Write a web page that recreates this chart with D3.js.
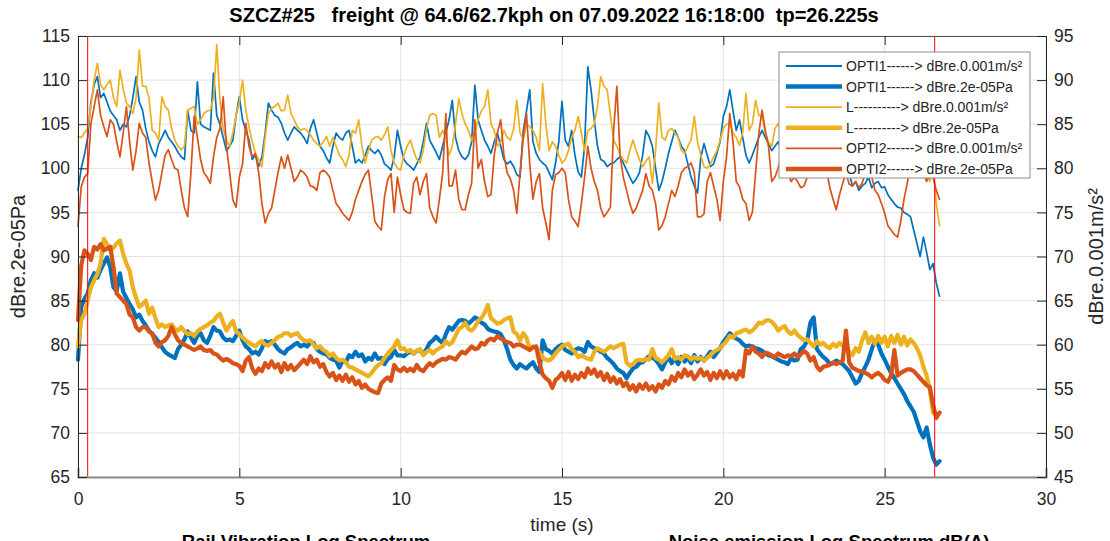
<!DOCTYPE html>
<html>
<head>
<meta charset="utf-8">
<script src="https://cdnjs.cloudflare.com/ajax/libs/d3/7.8.5/d3.min.js"></script>
<style>
  body { margin: 0; background: #fff; }
  svg { display: block; font-family: "Liberation Sans", Arial, Helvetica, sans-serif; }
</style>
</head>
<body>
<div id="chart"></div>
<script>
// sampling step of all series (s)
const dt = 0.1;

// OPTI1 / L / OPTI2 vibration, dBre.0.001m/s² (right axis)
const opti1Vib = [
  77.5, 80, 81.5, 83.5, 87.5, 89.5, 90.4, 88, 88.5, 87.5,
  86.5, 86, 85.5, 84.3, 85, 84.7, 86, 88, 90.4, 87.5,
  86.6, 84.5, 83, 82, 81.3, 82.8, 83.5, 84.3, 83.5, 83,
  82.5, 81.8, 81.3, 81, 86.6, 84.3, 84, 89.8, 85, 84.7,
  84.5, 84.3, 90.8, 86, 85, 83.5, 82, 82.5, 83.2, 86,
  88.1, 85.5, 84.3, 83.2, 81, 81.5, 80.2, 81.3, 84, 87.4,
  86.6, 86, 85.8, 85.1, 84, 83.2, 84, 84.7, 84.3, 84,
  83.5, 82.8, 84.5, 85.5, 84, 82.5, 82, 81.2, 80.6, 82.5,
  84, 83.5, 83.2, 84, 84.3, 82.5, 80.6, 81, 80.6, 81.5,
  82.5, 82, 81.7, 82.1, 81.5, 80.5, 80.2, 79.8, 81.3, 84.3,
  82.5, 81, 80.5, 80.2, 79.8, 80.5, 81.3, 83, 85.1, 83.2,
  82.5, 81.8, 81, 82.5, 84, 85.5, 87.7, 83.5, 82, 81.3,
  81, 81.5, 83, 89.4, 85.5, 84.3, 83.2, 82.5, 81.7, 83,
  84, 82.5, 81, 80.5, 80.8, 80.2, 79.3, 79, 84.3, 86.5,
  88.9, 83, 81.7, 81, 80.6, 80.3, 79.5, 78.7, 80.6, 83,
  87.6, 83.2, 82.5, 84.3, 81.5, 79.6, 79, 82.5, 91.5, 88.9,
  85.5, 82.5, 81, 80.8, 80.2, 80.5, 80.6, 81, 81.3, 80.6,
  79.8, 79, 78.3, 78.8, 79.5, 81.5, 84.3, 83.6, 82.5, 80,
  77.5, 78.5, 80, 81.7, 83, 84.3, 83.5, 82.5, 82, 80.5,
  79, 78, 77.2, 81.2, 82.8, 81.5, 80.2, 80.5, 81.7, 83,
  85.9, 87, 88.9, 86.5, 84.3, 85.5, 83.5, 81.5, 80.6, 81.5,
  82.5, 83.5, 84.3, 83.5, 82.8, 82, 82.5, 83, 82, 81.5,
  82, 82.5, 83, 82, 81.5, 82.5, 83.5, 82, 81, 80.5,
  81, 82, 83, 82.5, 81.5, 80.5, 80, 81, 80, 79.5,
  78, 78.5, 77.5, 78, 78.3, 79, 77.8, 78.3, 78.5, 77.8,
  77.9, 77, 76.5, 76, 75.6, 75.5, 75, 74.8, 74.5, 73,
  71.5, 70, 72.2, 70.5, 68.5, 69.2, 67, 65.5
];
const lVib = [
  83.6, 83.5, 84, 84.5, 87, 90, 91.9, 89.5, 88.9, 89.5,
  90, 88, 87, 91.1, 89, 87.4, 87, 86.2, 88, 93.4,
  89.3, 89.3, 88, 84.3, 84, 83.2, 88.1, 87, 86.6, 84.5,
  83.2, 82.5, 82.1, 82.5, 86.6, 86.8, 87, 85, 85.5, 86.2,
  86.5, 86.6, 88, 94, 87.7, 84.5, 83.2, 82.5, 84, 86,
  87.5, 90, 86.6, 84.7, 83, 81.7, 81, 80.2, 83.5, 86.2,
  86.8, 87, 87.4, 86.5, 86.6, 88.3, 86.2, 85.5, 84.7, 84.3,
  84.5, 84.3, 83.8, 83.2, 82.8, 82.5, 83, 83.6, 82.5, 83.5,
  82.5, 81.5, 81, 80.2, 81.5, 84.3, 84, 85.5, 82.5, 80.6,
  82, 83.2, 83.5, 83.6, 83.2, 83.8, 84.7, 82, 80.6, 80,
  79.8, 81.5, 82.5, 83.2, 82, 81, 80.6, 82, 84.5, 86,
  86.2, 86, 83.5, 84.3, 83.5, 81.5, 82.5, 85, 87.9, 86.2,
  85, 84.3, 83.2, 84, 85.5, 86.5, 87, 88.9, 85, 84.3,
  82.5, 83, 84.3, 83.5, 83.2, 84.5, 87.7, 84, 83.2, 85,
  84.7, 84.3, 83.5, 82, 89.6, 85, 82, 83, 82.5, 81.5,
  80.6, 81, 82, 83.5, 84.3, 85.9, 84, 82, 84.3, 84.5,
  85, 87, 90.4, 89.3, 88.9, 86, 83.2, 82.5, 81.5, 81,
  80.6, 82, 83.2, 82, 81, 80.2, 80.8, 81.3, 78.3, 82,
  87.4, 83.5, 83.2, 84.3, 84.5, 84, 83.5, 82, 81.7, 82.5,
  83.2, 85.9, 83, 81.5, 80.2, 80, 80.5, 81.3, 82, 83.2,
  84.5, 85, 85.1, 84, 83.5, 82.6, 84, 88.5, 84.3, 85,
  87.7, 86, 85.9, 84, 83, 82.5, 84.5, 85.1, 84, 83,
  82.5, 83.5, 84, 83, 82, 83, 84.5, 83.5, 82.5, 82,
  83, 84, 83, 82.5, 81.5, 82, 83, 82.5, 81.5, 81,
  81.5, 82, 81, 80.5, 81.5, 82, 81, 80.5, 81, 82,
  81.5, 80.5, 81, 80, 80.5, 81, 80.5, 80, 80.5, 81,
  80, 79, 80.5, 79.5, 78.5, 80, 76, 73.5
];
const opti2Vib = [
  73.4, 77.9, 79, 79.4, 85, 87, 88.9, 86, 84.7, 83.6,
  85.5, 85, 83, 81.3, 84, 87, 83, 79.8, 82, 85.1,
  84, 83.5, 80.6, 78.5, 76.4, 77.5, 79.5, 81.5, 82.1, 81,
  80, 79.8, 77.5, 75.5, 74.5, 79.5, 85.9, 83.5, 81, 79.5,
  79, 78.3, 81.3, 83.5, 84.5, 88.1, 82.5, 79.5, 76.4, 75.6,
  79, 80.5, 85.1, 82.5, 81.3, 81.7, 79.5, 76, 73.8, 74.9,
  75.5, 77.5, 79.5, 81.3, 80, 81.5, 80, 78.5, 79, 79.8,
  79.5, 79, 78, 77.9, 77.5, 79.5, 79.8, 79.5, 79, 77.5,
  76, 75.5, 74.9, 74.5, 74.1, 75, 76.5, 77.5, 78.5, 79.3,
  79.8, 77, 74, 73.4, 73, 76.8, 78.7, 79.4, 75, 79,
  77, 75.3, 75, 74.9, 78.3, 79, 77, 78.5, 79.4, 75.5,
  74.5, 73.8, 76.5, 79.4, 86.2, 78, 78, 79.8, 76.5, 75.3,
  75.3, 77, 78.3, 85.5, 80, 81, 78.5, 76.8, 77, 81.5,
  84, 85.5, 81.5, 79.5, 78.8, 77.5, 74.9, 79.5, 83.5, 86.2,
  80.5, 76.5, 78.5, 79.4, 75.5, 73.8, 71.9, 77.5, 79.3, 79.5,
  80, 79.5, 76.5, 74.5, 74, 73.4, 76, 79, 82.5, 80,
  78.5, 77.5, 75.5, 74.5, 75, 75.6, 84.3, 89.3, 81.5, 79,
  77.5, 76, 74.9, 75.5, 76.5, 77.5, 79.4, 78, 77.5, 76,
  73, 73.5, 74.5, 76, 77.5, 76.8, 78, 79.5, 80, 80.2,
  80.6, 79.5, 74.5, 74.5, 74.8, 78.5, 79.5, 78, 76.5, 74.1,
  78.5, 81.3, 86.2, 83, 78.5, 77.9, 76.5, 76, 74.1, 75,
  79.5, 84, 86.6, 84.3, 82.5, 78.5, 79, 80, 81.5, 80.5,
  79.5, 78.5, 79, 78.5, 77.8, 78, 79, 80.5, 81, 80,
  79.5, 80.5, 79.8, 77.8, 76.5, 75.3, 77, 78.3, 79.5, 78.2,
  78, 78.5, 77.8, 78.3, 79.5, 80.5, 79, 77.5, 77, 76,
  74.9, 73.5, 73, 72.5, 72.2, 74, 76.5, 78.3, 80.5, 82,
  81, 80, 79.5, 78.5, 79.5, 79, 77.5, 76.5
];

// OPTI1 / L / OPTI2 noise, dBre.2e-05Pa (left axis)
const opti1Noise = [
  78.3, 84.3, 85.2, 85.8, 87.3, 88.1, 87.6, 88.5, 89.2, 89.9,
  88.8, 86.5, 86.1, 88.1, 86, 85.3, 84.6, 84, 83.1, 83.4,
  82.7, 82.2, 81.6, 81.2, 80.8, 80.3, 79.7, 79.2, 78.9, 78.7,
  78.5, 79.5, 80, 80.6, 81.5, 80.8, 80.2, 81, 81.3, 80.5,
  80.2, 81, 82, 81.6, 81.5, 80.8, 80.5, 80.6, 80.4, 81,
  81.6, 80.5, 79.8, 79.5, 79, 79.2, 78.9, 79.6, 80.4, 80.2,
  80.4, 80, 79.5, 79.2, 79, 79.5, 79.7, 80, 80.2, 79.8,
  80, 79.8, 80.2, 80.2, 79.5, 79.2, 79, 78.9, 78.5, 78.3,
  78.2, 77.4, 78.2, 78, 78.8, 78.6, 79.2, 78.7, 78.9, 78.1,
  78.5, 78.3, 79, 78.4, 78.5, 77.8, 78.4, 78.6, 79.4, 78.8,
  78.8, 78.7, 79, 79.2, 79, 79.3, 79.4, 78.9, 79.5, 80.2,
  80.5, 80.9, 80.5, 80.2, 81.2, 82, 81.7, 82.2, 82.7, 82.8,
  82.7, 82.4, 82.7, 83.1, 82.9, 82.5, 82.3, 81.8, 81.6, 81.5,
  81.4, 81.2, 80.5, 79.5, 78.3, 77.7, 77.3, 77.8, 77.5, 77.3,
  77.7, 78, 77.3, 76.9, 80.5, 79.5, 79.3, 79, 79.5, 79.8,
  80, 79.4, 79.2, 79, 79.4, 79.6, 79.5, 79.2, 80.3, 79.8,
  79.6, 79.5, 79.2, 79, 78.5, 78.2, 77.8, 77.3, 77, 76.8,
  76.2, 76.8, 77.3, 77.5, 77.9, 78, 78.4, 78.7, 78.5, 78.3,
  77.8, 77.2, 78, 78.6, 77.9, 78.5, 77.8, 78.6, 78.1, 78.5,
  77.9, 78.8, 78.1, 78.6, 78.2, 78.7, 79.2, 78.6, 79.1, 79.6,
  80.3, 80.8, 81.3, 80.9, 80.7, 80.5, 80.1, 79.8, 79.9, 79.8,
  79.6, 79.5, 79.3, 79, 78.8, 78.7, 78.5, 78.3, 78.1, 78,
  77.8, 78.5, 78.2, 78.3, 79.5, 79.8, 80.5, 82.5, 83.1, 79.5,
  79, 78.6, 78.3, 77.8, 77.9, 78.2, 78, 77.8, 77.4, 77,
  76.3, 75.6, 75.9, 76.8, 77.5, 78.3, 79.5, 80.5, 80, 79,
  78.3, 77.5, 76.8, 76.2, 75.6, 75, 74.4, 73.6, 73, 72.4,
  71.3, 70.2, 69.5, 70.6, 68.7, 67.2, 66.4, 66.8
];
const lNoise = [
  79.8, 82.8, 83.5, 85, 86.5, 87.3, 88, 89.2, 92, 91.4,
  90.7, 91, 91.5, 91.8, 90.3, 89.2, 88.4, 86.5, 85.3, 84.3,
  84.6, 85, 83.5, 84.2, 83, 82, 82.3, 82, 82.2, 82.3,
  81.8, 81.6, 82, 81.5, 81.2, 81.3, 81, 81.5, 81.8, 82,
  82.2, 82.5, 82.7, 83.2, 83.5, 82.5, 81.6, 82.2, 82.7, 81.5,
  81.2, 80.8, 80.5, 80.2, 80, 79.8, 80.2, 80.4, 80, 79.9,
  80.2, 80.5, 80.9, 81, 81.3, 81.3, 81, 81.2, 81.3, 80.8,
  80.5, 80.4, 80.5, 80, 79.6, 79.8, 79.4, 79.2, 78.7, 79,
  78.5, 78.2, 78.3, 78, 77.5, 77.4, 77.2, 77, 76.8, 76.6,
  76.4, 76.8, 77.3, 77.7, 77.9, 78.5, 79, 79.4, 79.8, 80.5,
  79.5, 79.6, 79.2, 79.4, 79, 79.3, 79.5, 78.8, 79.2, 79.4,
  79, 79.4, 79.6, 79.8, 80.4, 80, 80.3, 81, 81.8, 82,
  82.5, 81.8, 81.6, 82, 82.7, 83, 83.6, 84.5, 83, 82.7,
  82.4, 82.5, 82.8, 83, 83.1, 81.5, 81.2, 80.5, 81.3, 80.8,
  79.4, 79.8, 79.6, 79.2, 78.5, 78.3, 78.2, 78.5, 79, 79.4,
  79.8, 80, 80.1, 79.5, 79.2, 78.6, 78.8, 78.6, 78.4, 78.3,
  79.2, 79.6, 79.4, 79.2, 79.5, 79.8, 79.6, 79.8, 80, 80.1,
  78, 77.6, 77.8, 78.2, 78.3, 78.2, 78.4, 78.3, 79.5, 78.5,
  78.3, 78, 78.4, 78.8, 79.5, 78.4, 78.6, 78.3, 78.8, 78.7,
  78.3, 78.6, 78.4, 78.5, 78.2, 78.5, 78.8, 79.2, 79.4, 79.6,
  80, 80.4, 81, 80.8, 81.3, 81.4, 81.6, 81.7, 81.4, 81.6,
  82, 82.5, 82.4, 82.7, 82.8, 82.6, 82.2, 81.6, 81.9, 82.1,
  81.5, 81.2, 81.6, 81.1, 80.8, 80.5, 80.6, 80.2, 79.8, 80.4,
  80, 80.2, 79.8, 79.6, 80.1, 79.8, 80.2, 79.9, 80, 79.2,
  78.8, 79.6, 79.2, 80.5, 81.4, 80.2, 80.9, 80.1, 81, 80.2,
  80.9, 79.8, 81, 80.2, 81.1, 80, 80.9, 79.9, 80.6, 80.2,
  79.6, 78.8, 77.5, 76.5, 74.9, 72.3, 72, 72.3
];
const opti2Noise = [
  82.8, 89, 90.7, 90.3, 89.6, 91.1, 90.8, 91.4, 90.7, 90.9,
  91.1, 88.8, 85.8, 85.4, 85, 84.6, 83.4, 83.1, 82, 81.6,
  82, 82, 81.5, 81.3, 80.2, 79.8, 80.3, 80.5, 81, 82,
  81.2, 80.5, 80.2, 80, 79.8, 79.6, 79.4, 79.6, 79.8, 79.4,
  79.3, 79.4, 79, 78.9, 78.5, 78.2, 78.4, 78.2, 77.9, 77.8,
  77.6, 77, 78.2, 78.6, 77.3, 76.7, 77.3, 77, 77.9, 77.4,
  78.1, 77.4, 77.8, 76.9, 77.9, 77.2, 77.7, 77.1, 77.5, 77.9,
  78.3, 77.8, 78.7, 78, 78.3, 77.5, 77.8, 76.9, 76.4, 76.8,
  76, 76.5, 75.9, 76.6, 75.8, 76.3, 75.5, 75.9, 75.1, 75.5,
  75, 74.8, 74.6, 74.5, 75.6, 76, 76.3, 75.9, 77.7, 77.2,
  77, 77.4, 77, 77.3, 77, 77.7, 77.2, 77, 77.5, 77.9,
  77.6, 78, 78.2, 78.4, 78.3, 78.6, 78.5, 78.3, 78.8, 79.2,
  79, 79.4, 79.8, 79.5, 79.6, 80.2, 80, 80.5, 80.7, 80.5,
  81, 80.7, 80.5, 80.3, 80.2, 79.8, 80, 80, 79.8, 79.6,
  79.4, 79.7, 79.8, 78, 76.6, 76.2, 75.9, 75.1, 76, 76.3,
  76.8, 76, 76.9, 75.9, 76.6, 76.1, 76.8, 76.3, 77.3, 76.7,
  77.2, 76.4, 76.9, 76, 76.7, 75.8, 76.3, 75.6, 76.1, 75.3,
  75.7, 74.9, 75.4, 74.7, 75.5, 75, 75.6, 74.9, 75.3, 74.7,
  75.5, 75.1, 75.9, 75.5, 76.4, 75.9, 76.8, 76.3, 77.2, 76.5,
  76.9, 76.1, 76.6, 77.2, 76.5, 76.9, 76, 76.8, 76.2, 77,
  76.2, 77, 76.3, 76.7, 76.1, 77, 76.4, 79.4, 79, 79.8,
  79.2, 79, 78.6, 79.1, 79, 78.8, 78.6, 79, 78.8, 78.6,
  78.8, 78.7, 79, 78.6, 78.9, 79.3, 79, 78.2, 78.6, 77.5,
  77.1, 77.5, 77.6, 77.7, 78, 77.8, 78, 78.2, 81.6, 78,
  77.4, 77.2, 77, 77, 76.8, 76.6, 76.3, 76.6, 76.8, 76.5,
  76, 75.8, 76.5, 79.4, 76.5, 76.8, 77, 77.2, 77.2, 77,
  76.6, 76.2, 75.8, 75.4, 75.2, 73.2, 71.7, 72.3
];

const xTicks = [0, 5, 10, 15, 20, 25, 30];
const yLeftTicks = [65, 70, 75, 80, 85, 90, 95, 100, 105, 110, 115];
const yRightTicks = [45, 50, 55, 60, 65, 70, 75, 80, 85, 90, 95];
const markerTimes = [0.3, 26.55];

const legendLabels = [
  "OPTI1------> dBre.0.001m/s²",
  "OPTI1------> dBre.2e-05Pa",
  "L----------> dBre.0.001m/s²",
  "L----------> dBre.2e-05Pa",
  "OPTI2------> dBre.0.001m/s²",
  "OPTI2------> dBre.2e-05Pa"
];

const blue = "#0072BD", yellow = "#EDB120", orange = "#D95319";

const margin = { top: 36, right: 64, bottom: 64, left: 78 },
    W = 1110, H = 541,
    width = W - margin.left - margin.right,
    height = H - margin.top - margin.bottom;

const svg = d3.select("#chart").append("svg")
    .attr("width", W)
    .attr("height", H);

const x = d3.scaleLinear().domain([0, 30]).range([0, width]);
const yL = d3.scaleLinear().domain([65, 115]).range([height, 0]);
const yR = d3.scaleLinear().domain([45, 95]).range([height, 0]);

const g = svg.append("g").attr("transform", `translate(${margin.left},${margin.top})`);

// grid
g.append("g").selectAll("line").data(xTicks).enter().append("line")
    .attr("x1", d => x(d)).attr("x2", d => x(d))
    .attr("y1", 0).attr("y2", height)
    .attr("stroke", "#e3e3e3").attr("stroke-width", 1);
g.append("g").selectAll("line").data(yLeftTicks).enter().append("line")
    .attr("x1", 0).attr("x2", width)
    .attr("y1", d => yL(d)).attr("y2", d => yL(d))
    .attr("stroke", "#e3e3e3").attr("stroke-width", 1);

// series
const series = [
  { data: opti1Vib, y: yR, color: blue, w: 1.7 },
  { data: opti1Noise, y: yL, color: blue, w: 4.2 },
  { data: lVib, y: yR, color: yellow, w: 1.7 },
  { data: lNoise, y: yL, color: yellow, w: 4.2 },
  { data: opti2Vib, y: yR, color: orange, w: 1.7 },
  { data: opti2Noise, y: yL, color: orange, w: 4.2 }
];
const drawOrder = [0, 2, 4, 1, 3, 5];

drawOrder.forEach(k => {
  const s = series[k];
  const line = d3.line()
      .x((d, i) => x(i * dt))
      .y(d => s.y(d));
  g.append("path")
      .datum(s.data)
      .attr("fill", "none")
      .attr("stroke", s.color)
      .attr("stroke-width", s.w)
      .attr("stroke-linejoin", "round")
      .attr("stroke-linecap", "round")
      .attr("d", line);
});

// red markers
g.append("g").selectAll("line").data(markerTimes).enter().append("line")
    .attr("x1", d => x(d)).attr("x2", d => x(d))
    .attr("y1", 0).attr("y2", height)
    .attr("stroke", "#ff0000").attr("stroke-width", 1);

// axes (MATLAB style, ticks inside)
const axBottom = g.append("g")
    .attr("transform", `translate(0,${height})`)
    .call(d3.axisBottom(x).tickValues(xTicks).tickSize(-9).tickPadding(16).tickFormat(d3.format("d")));
const axTop = g.append("g")
    .call(d3.axisTop(x).tickValues(xTicks).tickSize(-9).tickFormat(""));
const axLeft = g.append("g")
    .call(d3.axisLeft(yL).tickValues(yLeftTicks).tickSize(-9).tickPadding(8));
const axRight = g.append("g")
    .attr("transform", `translate(${width},0)`)
    .call(d3.axisRight(yR).tickValues(yRightTicks).tickSize(-9).tickPadding(8));

[axBottom, axTop, axLeft, axRight].forEach(a => {
  a.selectAll("text").attr("font-size", 17.5).attr("fill", "#262626")
      .style("font-family", "'Liberation Sans', Arial, sans-serif");
  a.selectAll(".tick line").attr("stroke", "#262626");
  a.select(".domain").attr("stroke", "#262626");
});
axBottom.select(".domain").attr("stroke", "#8a8a8a").attr("stroke-width", 2);
axTop.select(".domain").attr("stroke", "#555");

// legend
const lg = g.append("g").attr("transform", `translate(${779 - margin.left},${52 - margin.top})`);
lg.append("rect")
    .attr("width", 251).attr("height", 126)
    .attr("fill", "#fff").attr("stroke", "#8c8c8c").attr("stroke-width", 1);
legendLabels.forEach((label, i) => {
  const yy = 14 + i * 20.6;
  lg.append("line")
      .attr("x1", 7).attr("x2", 63).attr("y1", yy).attr("y2", yy)
      .attr("stroke", series[i].color).attr("stroke-width", i % 2 ? 4.5 : 1.8);
  lg.append("text")
      .attr("x", 67).attr("y", yy).attr("dy", "0.35em")
      .attr("font-size", 14).attr("fill", "#262626")
      .text(label);
});

// titles and labels
svg.append("text")
    .attr("x", 554).attr("y", 22)
    .attr("text-anchor", "middle")
    .attr("font-size", 20).attr("font-weight", "bold").attr("fill", "#000")
    .style("white-space", "pre")
    .text("SZCZ#25   freight @ 64.6/62.7kph on 07.09.2022 16:18:00  tp=26.225s");

svg.append("text")
    .attr("x", margin.left + width / 2).attr("y", 531)
    .attr("text-anchor", "middle")
    .attr("font-size", 19).attr("fill", "#262626")
    .text("time (s)");

svg.append("text")
    .attr("transform", `translate(25,${margin.top + height / 2}) rotate(-90)`)
    .attr("text-anchor", "middle")
    .attr("font-size", 20).attr("fill", "#262626")
    .text("dBre.2e-05Pa");

svg.append("text")
    .attr("transform", `translate(1103,${margin.top + height / 2}) rotate(-90)`)
    .attr("text-anchor", "middle")
    .attr("font-size", 20).attr("fill", "#262626")
    .text("dBre.0.001m/s²");

// titles of the subplots below (cut by the frame, as in the source figure)
svg.append("text")
    .attr("x", 306).attr("y", 548)
    .attr("text-anchor", "middle")
    .attr("font-size", 18.5).attr("font-weight", "bold")
    .text("Rail Vibration Log Spectrum");
svg.append("text")
    .attr("x", 829).attr("y", 548)
    .attr("text-anchor", "middle")
    .attr("font-size", 18.5).attr("font-weight", "bold")
    .text("Noise emission Log Spectrum dB(A)");
</script>
</body>
</html>
